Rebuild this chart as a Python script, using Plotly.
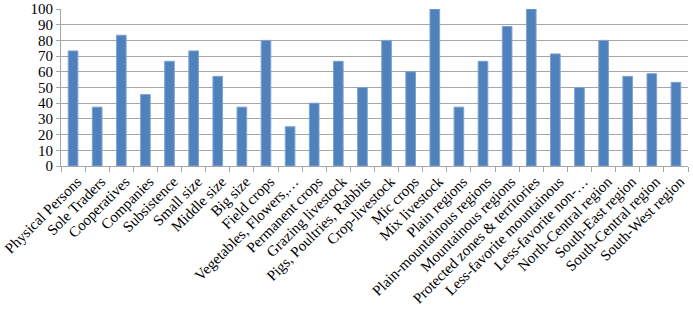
import plotly.graph_objects as go

categories = ["Physical Persons", "Sole Traders", "Cooperatives", "Companies", "Subsistence",
              "Small size", "Middle size", "Big size", "Field crops", "Vegetables, Flowers,…",
              "Permanent crops", "Grazing livestock", "Pigs, Poultries, Rabbits", "Crop-livestock",
              "Mic crops", "Mix livestock", "Plain regions", "Plain-mountainous regions",
              "Mountainous regions", "Protected zones & territories", "Less-favorite mountainous",
              "Less-favorite non-…", "North-Central region", "South-East region",
              "South-Central region", "South-West region"]
values = [73.3, 37.5, 83.3, 45.5, 66.7, 73.3, 57.1, 37.5, 80.0, 25.0,
          40.0, 66.7, 50.0, 80.0, 60.0, 100.0, 37.5, 66.7, 88.9, 100.0,
          71.4, 50.0, 80.0, 57.1, 58.8, 53.3]
y_ticks = [0, 10, 20, 30, 40, 50, 60, 70, 80, 90, 100]

fig = go.Figure(go.Bar(
    x=categories, y=values,
    marker=dict(color="#4F81BD", line=dict(color="#7FA3D3", width=1)),
))

font = dict(family="Liberation Serif, Times New Roman, serif", size=15, color="#000000")
fig.update_layout(
    width=693, height=312,
    margin=dict(l=61, r=5, t=9, b=146),
    paper_bgcolor="white", plot_bgcolor="white",
    bargap=0.6, showlegend=False, font=font,
)
fig.update_xaxes(
    tickangle=-45, showline=True, linecolor="#A6A6A6", linewidth=1,
    ticks="outside", tickson="boundaries", ticklen=5, tickcolor="#A6A6A6",
    showgrid=False, tickfont=font, automargin=False, ticklabelshift=4,
)
fig.update_yaxes(
    range=[0, 100], tickvals=y_ticks, showline=True, linecolor="#A6A6A6", linewidth=1,
    showgrid=True, gridcolor="#A6A6A6", gridwidth=1, zeroline=False,
    ticks="outside", ticklen=4, tickcolor="#A6A6A6", tickfont=font, automargin=False,
)
fig.write_html("out.html")
